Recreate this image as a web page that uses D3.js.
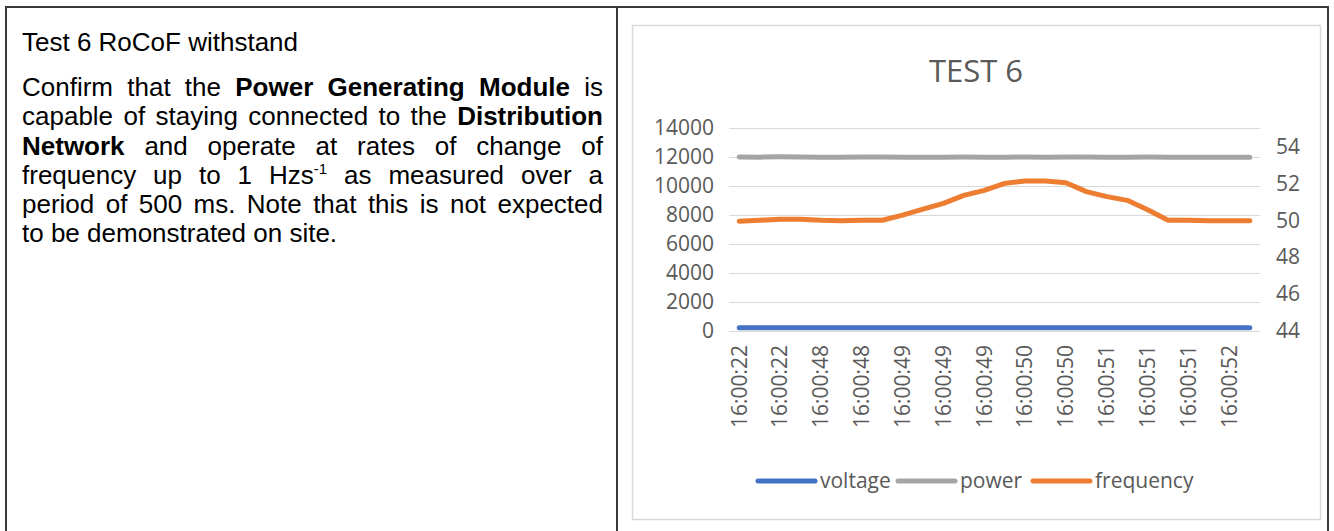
<!DOCTYPE html>
<html>
<head>
<meta charset="utf-8">
<script src="https://cdn.jsdelivr.net/npm/d3@7"></script>
<style>
  body { margin: 0; background: #fff; width: 1334px; height: 531px; overflow: hidden; position: relative; }
  .frame { position: absolute; left: 5px; top: 6px; width: 1324px; height: 600px;
           border: 2px solid #3a3a3a; box-sizing: border-box; }
  .divider { position: absolute; left: 616px; top: 6px; width: 2px; height: 600px; background: #3a3a3a; }
  .cell { position: absolute; left: 22px; top: 28px; width: 581px;
          font-family: "Liberation Sans", Arial, sans-serif; font-size: 26px; color: #000; }
  .cell .head { line-height: 29px; margin-bottom: 16px; }
  .cell .ln { line-height: 29.3px; text-align: justify; text-align-last: justify; white-space: nowrap; }
  .cell .ln.last { text-align-last: left; }
  .cell sup { font-size: 15px; line-height: 0; vertical-align: 10px; }
  svg { position: absolute; left: 0; top: 0; }
</style>
</head>
<body>
<div class="frame"></div>
<div class="divider"></div>
<div class="cell">
  <div class="head">Test 6 RoCoF withstand</div>
  <div class="ln">Confirm that the <b>Power Generating Module</b> is</div>
  <div class="ln">capable of staying connected to the <b>Distribution</b></div>
  <div class="ln"><b>Network</b> and operate at rates of change of</div>
  <div class="ln">frequency up to 1 Hzs<sup>-1</sup> as measured over a</div>
  <div class="ln">period of 500 ms. Note that this is not expected</div>
  <div class="ln last">to be demonstrated on site.</div>
</div>
<div id="chart"></div>
<script>
var svgWidth = 1334;
var svgHeight = 531;

// data
var times = ["16:00:22", "16:00:22", "16:00:22", "16:00:48", "16:00:48", "16:00:48", "16:00:48",
    "16:00:49", "16:00:49", "16:00:49", "16:00:49", "16:00:49", "16:00:49",
    "16:00:50", "16:00:50", "16:00:50", "16:00:50",
    "16:00:51", "16:00:51", "16:00:51", "16:00:51", "16:00:51", "16:00:51",
    "16:00:52", "16:00:52", "16:00:52"];
var voltage = [231, 231, 232, 231, 231, 232, 231, 231, 230, 231, 231, 232, 231,
    231, 231, 230, 231, 231, 232, 231, 231, 231, 232, 231, 231, 231];
var power = [12000, 11990, 12010, 12000, 11980, 11990, 12000, 12000, 11990, 11980, 11990, 12000, 11990,
    11990, 12000, 11990, 12000, 12000, 11990, 11990, 12000, 11980, 11990, 11990, 11990, 11990];
var frequency = [49.95, 50.0, 50.05, 50.05, 50.0, 49.98, 50.0, 50.0, 50.28, 50.6, 50.92, 51.35, 51.62,
    52.0, 52.13, 52.13, 52.03, 51.55, 51.28, 51.08, 50.57, 50.0, 50.0, 49.98, 49.98, 49.98];
var leftTicks = [0, 2000, 4000, 6000, 8000, 10000, 12000, 14000];
var rightTicks = [44, 46, 48, 50, 52, 54];
var seriesNames = ["voltage", "power", "frequency"];
var seriesColors = ["#4472C4", "#A5A5A5", "#ED7D31"];

var chartFont = "'Open Sans', 'Noto Sans', sans-serif";
var textColor = "#595959";

var margin = { top: 128, left: 729, right: 1260, bottom: 331 };

var svg = d3.select("#chart")
    .append("svg")
    .attr("width", svgWidth)
    .attr("height", svgHeight);

// chart box
svg.append("rect")
    .attr("x", 632.5)
    .attr("y", 25.5)
    .attr("width", 688)
    .attr("height", 494)
    .attr("fill", "#fff")
    .attr("stroke", "#D9D9D9")
    .attr("stroke-width", 1.5);

svg.append("text")
    .attr("x", 976)
    .attr("y", 82)
    .attr("text-anchor", "middle")
    .attr("font-family", chartFont)
    .attr("font-size", 31)
    .attr("fill", textColor)
    .text("TEST 6");

var xScale = d3.scaleBand()
    .domain(d3.range(times.length))
    .range([margin.left, margin.right]);

var yLeft = d3.scaleLinear()
    .domain([0, 14000])
    .range([margin.bottom, margin.top]);

var yRight = d3.scaleLinear()
    .domain([44, 55])
    .range([margin.bottom, margin.top]);

// gridlines
svg.append("g")
    .selectAll("line")
    .data(leftTicks)
    .enter()
    .append("line")
    .attr("x1", margin.left)
    .attr("x2", margin.right)
    .attr("y1", d => Math.round(yLeft(d)) + 0.5)
    .attr("y2", d => Math.round(yLeft(d)) + 0.5)
    .attr("stroke", "#D9D9D9")
    .attr("stroke-width", 1.2);

var leftAxis = d3.axisLeft(yLeft).tickValues(leftTicks).tickFormat(d3.format("d")).tickSize(0).tickPadding(15);
var rightAxis = d3.axisRight(yRight).tickValues(rightTicks).tickSize(0).tickPadding(16);
var bottomAxis = d3.axisBottom(xScale)
    .tickValues(d3.range(0, times.length, 2))
    .tickFormat(i => times[i])
    .tickSize(0);

function styleAxis(g) {
    g.select(".domain").remove();
    g.selectAll("text")
        .attr("font-family", chartFont)
        .attr("font-size", 21)
        .attr("fill", textColor);
}

svg.append("g")
    .attr("transform", `translate(${margin.left}, 0)`)
    .call(leftAxis)
    .call(styleAxis);

svg.append("g")
    .attr("transform", `translate(${margin.right}, 0)`)
    .call(rightAxis)
    .call(styleAxis);

svg.append("g")
    .attr("transform", `translate(0, ${margin.bottom})`)
    .call(bottomAxis)
    .call(styleAxis)
    .selectAll("text")
    .attr("transform", "rotate(-90)")
    .attr("text-anchor", "end")
    .attr("x", -14)
    .attr("y", 0)
    .attr("dy", "0.35em");

// lines
var cx = i => xScale(i) + xScale.bandwidth() / 2;

var lineLeft = d3.line().x((d, i) => cx(i)).y(d => yLeft(d));
var lineRight = d3.line().x((d, i) => cx(i)).y(d => yRight(d));

[[voltage, lineLeft, 0], [power, lineLeft, 1], [frequency, lineRight, 2]].forEach(function (s) {
    svg.append("path")
        .datum(s[0])
        .attr("d", s[1])
        .attr("fill", "none")
        .attr("stroke", seriesColors[s[2]])
        .attr("stroke-width", 5)
        .attr("stroke-linejoin", "round")
        .attr("stroke-linecap", "round");
});

// legend
var legendX = [758, 898, 1033];
var legend = svg.append("g");
seriesNames.forEach(function (name, i) {
    legend.append("line")
        .attr("x1", legendX[i])
        .attr("x2", legendX[i] + 57)
        .attr("y1", 481)
        .attr("y2", 481)
        .attr("stroke", seriesColors[i])
        .attr("stroke-width", 5)
        .attr("stroke-linecap", "round");
    legend.append("text")
        .attr("x", legendX[i] + 62)
        .attr("y", 481)
        .attr("dy", "0.35em")
        .attr("font-family", chartFont)
        .attr("font-size", 21)
        .attr("fill", textColor)
        .text(name);
});
</script>
</body>
</html>
